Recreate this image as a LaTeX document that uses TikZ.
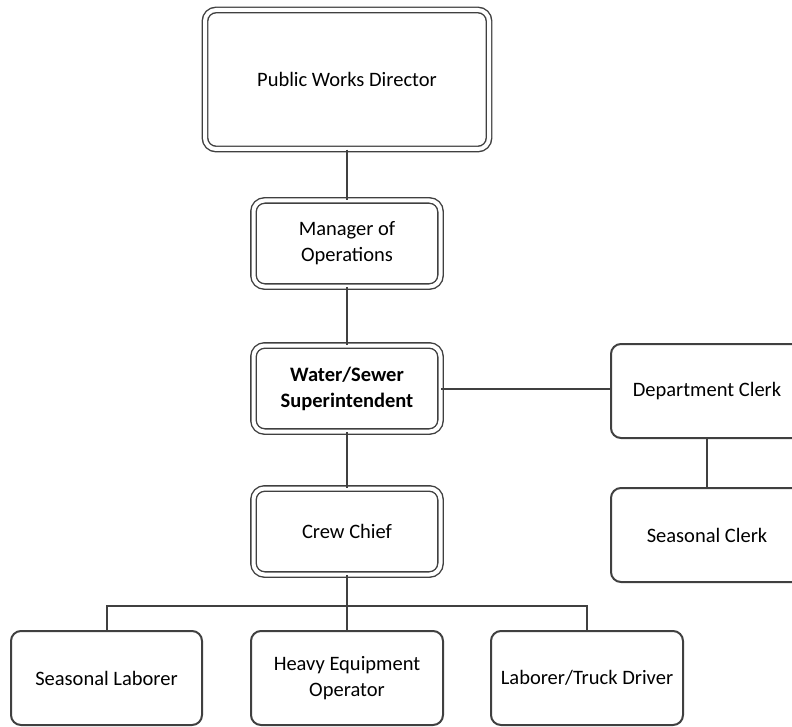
\documentclass[tikz,border=0pt]{standalone}
\usepackage{fontspec}
\setmainfont{Carlito}
\definecolor{edge}{HTML}{404040}
\tikzset{
  txt/.style={font=\fontsize{20.5}{26}\selectfont},
  dbox/.style={draw=edge, line width=1.4pt, double=white, double distance=4pt, rounded corners=11pt, align=center, txt, inner sep=2pt},
  sbox/.style={draw=edge, line width=2pt, rounded corners=10pt, align=center, txt, minimum width=192pt, minimum height=94pt, inner sep=2pt},
  conn/.style={draw=edge, line width=2pt}
}
\begin{document}
\begin{tikzpicture}[x=1pt,y=-1pt]
\useasboundingbox (0,0) rectangle (792,727);
\clip (0,0) rectangle (792,727);
\node[dbox, minimum width=284pt, minimum height=139pt] (pwd) at (347,79.5) {Public Works Director};
\node[dbox, minimum width=187pt, minimum height=86pt] (mgr) at (347,243.5) {Manager of\\Operations};
\node[dbox, minimum width=187pt, minimum height=86pt, font=\fontsize{20.5}{26}\selectfont\bfseries] (wss) at (347,388.5) {Water/Sewer\\Superintendent};
\node[dbox, minimum width=187pt, minimum height=86pt] (crew) at (347,531.5) {Crew Chief};
\node[sbox] (dc) at (707,391) {Department Clerk};
\node[sbox] (sc) at (707,535) {Seasonal Clerk};
\node[sbox, minimum width=191pt] (sl) at (106.5,678) {Seasonal Laborer};
\node[sbox] (heo) at (347,678) {Heavy Equipment\\Operator};
\node[sbox] (ltd) at (587,678) {Laborer/Truck Driver};
\coordinate (bus) at (347,606);
\draw[conn] (pwd.south) -- (mgr.north);
\draw[conn] (mgr.south) -- (wss.north);
\draw[conn] (wss.south) -- (crew.north);
\draw[conn] (wss.east) -- (wss.east -| dc.west);
\draw[conn] (dc.south) -- (sc.north);
\draw[conn] (crew.south) -- (bus);
\draw[conn] (sl.north) |- (bus) -| (ltd.north);
\draw[conn] (bus) -- (heo.north);
\end{tikzpicture}
\end{document}
